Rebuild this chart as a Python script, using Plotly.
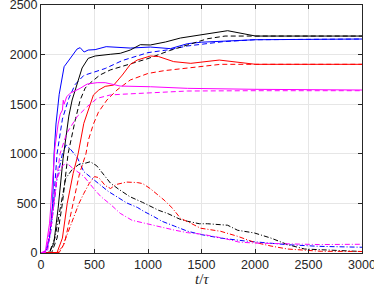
import plotly.graph_objects as go

# ---- data ----
blue_solid_t = [0, 40, 80, 109, 122, 140, 170, 197, 216, 262, 337, 366, 403, 441, 506, 609, 834, 1022, 1209, 1369, 1500, 2000, 3000]
blue_solid_v = [0, 5, 150, 500, 1000, 1300, 1600, 1744, 1878, 1945, 2056, 2070, 2026, 2046, 2050, 2080, 2066, 2076, 2060, 2110, 2125, 2150, 2157]

blue_dash_t = [0, 50, 90, 120, 150, 200, 260, 320, 400, 470, 600, 760, 1000, 1200, 1369, 1700, 2000, 3000]
blue_dash_v = [0, 10, 200, 550, 1000, 1350, 1560, 1700, 1790, 1815, 1860, 1940, 2020, 2050, 2087, 2130, 2150, 2157]

blue_dd_t = [0, 50, 100, 150, 200, 235, 280, 340, 400, 470, 560, 630, 720, 800, 900, 960, 1050, 1130, 1250, 1369, 1500, 1680, 1900, 2100, 2300, 2600, 3000]
blue_dd_v = [0, 20, 300, 750, 1000, 1090, 1040, 960, 820, 760, 680, 620, 560, 505, 460, 420, 370, 320, 270, 220, 185, 150, 122, 100, 84, 67, 58]

black_solid_t = [0, 80, 120, 160, 206, 225, 260, 291, 320, 347, 384, 441, 506, 647, 741, 834, 928, 1022, 1163, 1303, 1369, 1556, 1744, 2006, 3000]
black_solid_v = [0, 5, 100, 450, 950, 1109, 1380, 1542, 1650, 1744, 1865, 1962, 1986, 2003, 2013, 2046, 2100, 2097, 2127, 2167, 2178, 2214, 2241, 2187, 2187]

black_dash_t = [0, 100, 150, 200, 253, 290, 320, 366, 413, 460, 550, 647, 750, 928, 1000, 1200, 1369, 1556, 1720, 3000]
black_dash_v = [0, 5, 150, 500, 1000, 1200, 1340, 1542, 1663, 1714, 1794, 1845, 1880, 1938, 1960, 2040, 2100, 2160, 2187, 2187]

black_dd_t = [0, 80, 130, 180, 230, 290, 350, 420, 460, 520, 580, 650, 730, 830, 950, 1000, 1100, 1180, 1300, 1369, 1480, 1556, 1744, 1838, 1994, 2150, 2306, 2463, 3000]
black_dd_v = [0, 10, 150, 450, 750, 840, 890, 907, 920, 880, 800, 703, 640, 568, 510, 484, 430, 400, 340, 320, 295, 295, 280, 229, 202, 150, 84, 40, 15]

red_solid_t = [0, 150, 200, 245, 300, 347, 400, 450, 490, 540, 600, 680, 760, 834, 900, 1022, 1100, 1240, 1400, 1666, 2006, 3000]
red_solid_v = [0, 5, 150, 500, 800, 1000, 1307, 1475, 1593, 1643, 1680, 1693, 1794, 1900, 1945, 1986, 1980, 1929, 1912, 1945, 1902, 1902]

red_dash_t = [0, 170, 220, 300, 360, 420, 443, 490, 537, 616, 710, 834, 1000, 1150, 1369, 1680, 3000]
red_dash_v = [0, 5, 100, 500, 800, 1000, 1139, 1300, 1420, 1542, 1643, 1744, 1810, 1838, 1862, 1902, 1902]

red_dd_t = [0, 150, 200, 250, 300, 355, 400, 450, 500, 540, 600, 650, 700, 800, 900, 950, 1020, 1080, 1150, 1230, 1303, 1400, 1491, 1678, 1838, 1994, 2150, 2306, 2619, 3000]
red_dd_v = [0, 5, 60, 200, 360, 500, 600, 700, 770, 760, 680, 650, 690, 715, 710, 700, 650, 600, 534, 450, 350, 300, 250, 219, 168, 108, 70, 40, 17, 15]

mag_solid_t = [0, 40, 80, 110, 131, 160, 180, 200, 208, 216, 230, 240, 272, 366, 431, 525, 600, 740, 1022, 1369, 2000, 3000]
mag_solid_v = [0, 10, 300, 700, 1071, 1300, 1400, 1440, 1540, 1500, 1560, 1575, 1610, 1660, 1703, 1717, 1717, 1683, 1676, 1660, 1650, 1643]

mag_dash_t = [0, 60, 100, 140, 178, 240, 337, 431, 525, 600, 647, 750, 1000, 1369, 2000, 3000]
mag_dash_v = [0, 10, 300, 700, 1000, 1206, 1374, 1475, 1559, 1583, 1593, 1600, 1616, 1633, 1636, 1636]

mag_dd_t = [0, 50, 100, 150, 200, 240, 290, 400, 500, 560, 660, 740, 850, 1000, 1100, 1250, 1369, 1500, 1700, 1850, 2000, 2300, 2600, 3000]
mag_dd_v = [0, 30, 350, 750, 880, 907, 860, 773, 640, 568, 480, 400, 330, 290, 265, 230, 205, 190, 150, 110, 100, 95, 85, 88]

x_ticks = [0, 500, 1000, 1500, 2000, 2500, 3000]
y_ticks = [0, 500, 1000, 1500, 2000, 2500]

# ---- styles ----
BLUE, BLACK, RED, MAG = "#0000ff", "#000000", "#ff0000", "#ff00ff"
SOLID, DASH, DASHDOT = "solid", "5px,3px", "5px,2px,1px,2px"

series = [
    (blue_solid_t, blue_solid_v, BLUE, SOLID),
    (blue_dash_t, blue_dash_v, BLUE, DASH),
    (blue_dd_t, blue_dd_v, BLUE, DASHDOT),
    (black_solid_t, black_solid_v, BLACK, SOLID),
    (black_dash_t, black_dash_v, BLACK, DASH),
    (black_dd_t, black_dd_v, BLACK, DASHDOT),
    (red_solid_t, red_solid_v, RED, SOLID),
    (red_dash_t, red_dash_v, RED, DASH),
    (red_dd_t, red_dd_v, RED, DASHDOT),
    (mag_solid_t, mag_solid_v, MAG, SOLID),
    (mag_dash_t, mag_dash_v, MAG, DASH),
    (mag_dd_t, mag_dd_v, MAG, DASHDOT),
]

fig = go.Figure()
for t, v, c, d in series:
    fig.add_trace(go.Scatter(x=t, y=v, mode="lines",
                             line=dict(color=c, width=1, dash=d),
                             showlegend=False, hoverinfo="skip"))

axis_common = dict(
    showgrid=True, gridcolor="#e6e6e6", gridwidth=1,
    showline=True, linecolor="#262626", linewidth=1, mirror="ticks",
    ticks="inside", ticklen=4, tickcolor="#262626",
    zeroline=False, automargin=False, ticklabeloverflow="allow",
    tickfont=dict(family="Liberation Sans, Arial, sans-serif", size=12.5, color="#262626"),
)

fig.update_layout(
    width=374, height=287,
    margin=dict(l=41, r=12, t=5, b=34),
    paper_bgcolor="white", plot_bgcolor="white",
    xaxis=dict(range=[0, 3000], tickvals=x_ticks, **axis_common),
    yaxis=dict(range=[0, 2500], tickvals=y_ticks, **axis_common),
    annotations=[dict(text="<i>t</i>/<i>τ</i>", xref="paper", yref="paper",
                      x=0.5, y=-0.105, xanchor="center", yanchor="middle",
                      showarrow=False,
                      font=dict(family="Liberation Serif, DejaVu Serif, serif", size=15, color="#262626"))],
)

fig.write_html("out.html", config={"displayModeBar": False},
               post_script="document.body.style.margin='0';document.body.style.overflow='hidden';")
